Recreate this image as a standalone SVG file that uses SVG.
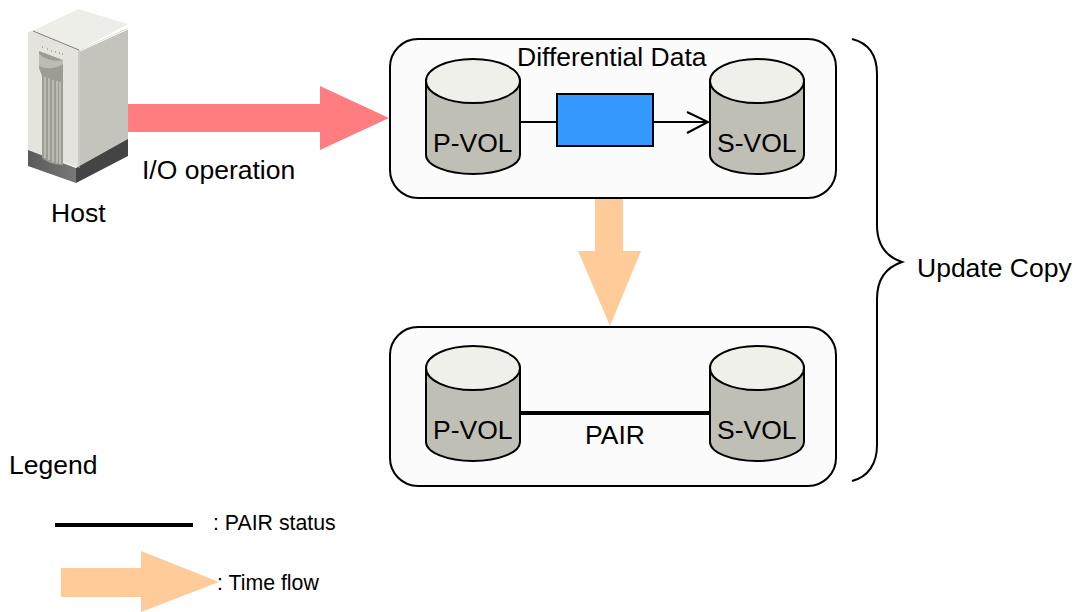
<svg xmlns="http://www.w3.org/2000/svg" width="1082" height="612" viewBox="0 0 1082 612">
<style>
text{font-family:"Liberation Sans",Arial,sans-serif;fill:#000;font-size:26.5px}
.panel{fill:#fbfbfb;stroke:#000;stroke-width:2}
.body{fill:#bfbfb5;stroke:#000;stroke-width:2}
.top{fill:#f0f0eb;stroke:#000;stroke-width:2}
.ln{fill:none;stroke:#000;stroke-width:2}
.sm{font-size:21.3px}
</style>
<defs>
<g id="cyl">
<path class="body" d="M0 21V96A47 19 0 0 0 94 96V21Z"/>
<ellipse class="top" cx="47" cy="22" rx="47" ry="22"/>
</g>
<linearGradient id="base" x1="0" x2="1" y1="0" y2="0"><stop offset="0" stop-color="#5a5a5a"/><stop offset="1" stop-color="#787878"/></linearGradient>
</defs>
<rect width="1082" height="612" fill="#fff"/>
<g id="host">
<path d="M32 31 78 9 128 24 80 50Z" fill="#eeeee9"/>
<path d="M32 31 80 50V168L28 150V32Z" fill="#e4e4dc"/>
<path d="M80 50 128 28V141L80 168Z" fill="#c4c4bc"/>
<path d="M28 150 76 168V183L28 166Z" fill="url(#base)"/>
<path d="M76 168 128 139V156L76 183Z" fill="#444"/>
<path d="M33 31 79 50" stroke="#8a7a7a" fill="none"/>
<path d="M80 51 128 29" stroke="#fff" fill="none"/>
<path d="M79 50V168" stroke="#b9b0ae" fill="none"/>
<path d="M39 51 63 60V165C54 165 47 162 42 158V76L39 68Z" fill="#9c9c95"/>
<path d="M39 54C46 60 56 62 63 60V64C58 68 48 70 39 66Z" fill="#bcbcb4"/>
<path d="M45 77V158M49 78V160M53 80V162M57 81V163M60 82V164" stroke="#dadad4" stroke-width="1" fill="none"/>
<path d="M42 47h1M47 49h1M51 51h1M55 52h1M59 53h1M62 54h1" stroke="#77776f" fill="none"/>
<text x="51" y="222">Host</text>
</g>
<g id="connectors">
<path d="M128 104H320V86L389 118 320 150V132H128Z" fill="#ff7c80"/>
<path d="M595 199H623V251H641L610 326 578 251H595Z" fill="#ffcc99"/>
</g>
<g id="panel-top">
<rect class="panel" x="390" y="39" width="446" height="159" rx="28"/>
<text x="517" y="66">Differential Data</text>
<g id="pvol-1"><use href="#cyl" x="426" y="59"/><text x="433" y="152">P-VOL</text></g>
<g id="svol-1"><use href="#cyl" x="710" y="59"/><text x="717" y="152">S-VOL</text></g>
<path class="ln" d="M520 122H557M653 122H708M687 112 708 122 687 133"/>
<rect id="diff-data" x="557" y="94" width="96" height="52" fill="#3399ff" stroke="#000" stroke-width="2"/>
</g>
<g id="panel-bottom">
<rect class="panel" x="390" y="327" width="446" height="159" rx="28"/>
<g id="pvol-2"><use href="#cyl" x="426" y="346"/><text x="433" y="439">P-VOL</text></g>
<g id="svol-2"><use href="#cyl" x="710" y="346"/><text x="717" y="439">S-VOL</text></g>
<path d="M520 413H710" stroke="#000" stroke-width="4" fill="none"/>
<text x="585" y="444">PAIR</text>
</g>
<g id="bracket">
<path class="ln" d="M852 39C868 43 877 55 877 74V225C877 245 887 257 902 262C887 267 877 279 877 299V445C877 464 868 477 852 481"/>
<text x="917" y="277">Update Copy</text>
</g>
<text x="142" y="179" id="label-io">I/O operation</text>
<g id="legend">
<text x="9" y="474">Legend</text>
<path d="M55 525H193" stroke="#000" stroke-width="4" fill="none"/>
<text class="sm" x="213" y="530">: PAIR status</text>
<path d="M61 568H141V551L219 582 141 612V597H61Z" fill="#ffcc99"/>
<text class="sm" x="217" y="590">: Time flow</text>
</g>
</svg>
